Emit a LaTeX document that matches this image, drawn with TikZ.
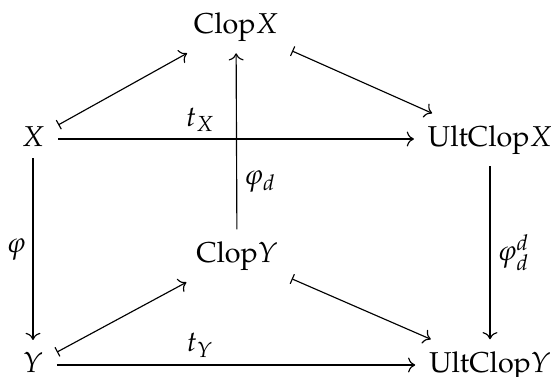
\documentclass[tikz,border=0pt]{standalone}
\usepackage[T1]{fontenc}
\usepackage{amsmath}
\usepackage{mathpazo}
\usetikzlibrary{arrows.meta, cd}

\begin{document}
\begin{tikzpicture}[x=0.3484pt, y=-0.3484pt, >=To,
    cell/.style={shape=asymmetrical rectangle, inner xsep=1ex, inner ysep=0.85ex},
    lbl/.style={inner sep=2.4pt},
    mapsarrow/.style={{Bar[width=3.6pt]}->}]
  \useasboundingbox (0,0) rectangle (551,376);
  % objects
  \node[cell] (X) at (33,139) {$X$};
  \node[cell] (ClopX) at (236,26) {$\mathrm{Clop}X$};
  \node[cell] (UltX) at (490,139) {$\mathrm{UltClop}X$};
  \node[cell] (ClopY) at (237,255) {$\mathrm{Clop}Y$};
  \node[cell] (Y) at (33,365) {$Y$};
  \node[cell] (UltY) at (490,365) {$\mathrm{UltClop}Y$};
  % maps-to arrows
  \foreach \s/\t in {X/ClopX, ClopX/UltX, Y/ClopY, ClopY/UltY}
    \draw[mapsarrow] (\s) -- (\t);
  % morphisms
  \draw[->] (X) -- node[lbl, pos=.4, above] {$t_X$} (UltX);
  \draw[->] (Y) -- node[lbl, pos=.4, above] {$t_Y$} (UltY);
  \draw[->] (X) -- node[lbl, left] {$\varphi$} (Y);
  \draw[->] (ClopY) -- node[lbl, pos=.27, right] {$\varphi_d$} (ClopX);
  \draw[->] (UltX) -- node[lbl, right] {$\varphi_d^d$} (UltY);
\end{tikzpicture}
\end{document}
